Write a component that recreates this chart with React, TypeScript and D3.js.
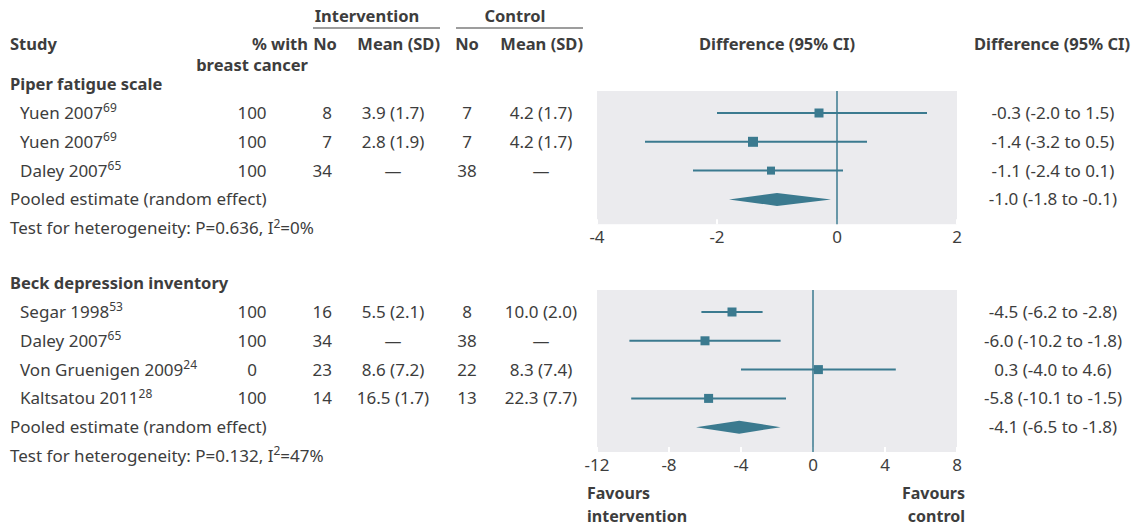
import React from "react";
import * as d3 from "d3";

// ---- data ----
const piperStudies = ["Yuen 2007", "Yuen 2007", "Daley 2007"];
const piperRefs = ["69", "69", "65"];
const piperPct = ["100", "100", "100"];
const piperIntN = ["8", "7", "34"];
const piperIntMean = ["3.9 (1.7)", "2.8 (1.9)", "—"];
const piperCtlN = ["7", "7", "38"];
const piperCtlMean = ["4.2 (1.7)", "4.2 (1.7)", "—"];
const piperEst = [-0.3, -1.4, -1.1];
const piperLo = [-2.0, -3.2, -2.4];
const piperHi = [1.5, 0.5, 0.1];
const piperSize = [9, 10, 8];
const piperPooled = [-1.0, -1.8, -0.1];
const piperHet = ["0.636", "0%"];
const piperTicks = [-4, -2, 0, 2];

const beckStudies = ["Segar 1998", "Daley 2007", "Von Gruenigen 2009", "Kaltsatou 2011"];
const beckRefs = ["53", "65", "24", "28"];
const beckPct = ["100", "100", "0", "100"];
const beckIntN = ["16", "34", "23", "14"];
const beckIntMean = ["5.5 (2.1)", "—", "8.6 (7.2)", "16.5 (1.7)"];
const beckCtlN = ["8", "38", "22", "13"];
const beckCtlMean = ["10.0 (2.0)", "—", "8.3 (7.4)", "22.3 (7.7)"];
const beckEst = [-4.5, -6.0, 0.3, -5.8];
const beckLo = [-6.2, -10.2, -4.0, -10.1];
const beckHi = [-2.8, -1.8, 4.6, -1.5];
const beckSize = [9, 9, 9, 9];
const beckPooled = [-4.1, -6.5, -1.8];
const beckHet = ["0.132", "47%"];
const beckTicks = [-12, -8, -4, 0, 4, 8];

const TEAL = "#3b7a8f";
const TEXT = "#3d3d3d";
const BG = "#ebebee";
const FONT = "'Noto Sans', 'Open Sans', sans-serif";
const FS = 17;
const FS_B = 16.5;

const fmt = (v: number) => d3.format(".1f")(v).replace("\u2212", "-");
const ciText = (e: number, l: number, h: number) => `${fmt(e)} (${fmt(l)} to ${fmt(h)})`;

type Section = {
  title: string;
  studies: string[];
  refs: string[];
  pct: string[];
  intN: string[];
  intMean: string[];
  ctlN: string[];
  ctlMean: string[];
  est: number[];
  lo: number[];
  hi: number[];
  size: number[];
  pooled: number[];
  het: string[];
  ticks: number[];
};

const sections: Section[] = [
  {
    title: "Piper fatigue scale",
    studies: piperStudies, refs: piperRefs, pct: piperPct, intN: piperIntN, intMean: piperIntMean,
    ctlN: piperCtlN, ctlMean: piperCtlMean, est: piperEst, lo: piperLo, hi: piperHi, size: piperSize,
    pooled: piperPooled, het: piperHet, ticks: piperTicks,
  },
  {
    title: "Beck depression inventory",
    studies: beckStudies, refs: beckRefs, pct: beckPct, intN: beckIntN, intMean: beckIntMean,
    ctlN: beckCtlN, ctlMean: beckCtlMean, est: beckEst, lo: beckLo, hi: beckHi, size: beckSize,
    pooled: beckPooled, het: beckHet, ticks: beckTicks,
  },
];

const PLOT_L = 597;
const PLOT_R = 957;
const ROW_H = 28.8;

const SectionBlock = ({ s, top }: { s: Section; top: number }) => {
  const n = s.studies.length;
  const x = d3.scaleLinear().domain(d3.extent(s.ticks) as [number, number]).range([PLOT_L, PLOT_R]);
  const y = d3.scaleLinear().domain([0, 1]).range([top + 28, top + 28 + ROW_H]);
  const bgTop = y(0) - 22;
  const bgBot = y(n + 1) - 4;
  const diamond = d3.line()([
    [x(s.pooled[1]), y(n)],
    [x(s.pooled[0]), y(n) - 6.5],
    [x(s.pooled[2]), y(n)],
    [x(s.pooled[0]), y(n) + 6.5],
  ]) + "Z";
  return (
    <g>
      <text x={10} y={top + 5} fontWeight={700} fontSize={FS_B}>{s.title}</text>
      <rect x={PLOT_L} y={bgTop} width={PLOT_R - PLOT_L} height={bgBot - bgTop} fill={BG} />
      {s.ticks.map((t) => (
        <line key={"g" + t} x1={x(t)} x2={x(t)} y1={bgBot - 5} y2={bgBot} stroke="#fff" strokeWidth={2} />
      ))}
      <line x1={x(0)} x2={x(0)} y1={bgTop} y2={bgBot} stroke={TEAL} strokeWidth={1.5} />
      {s.studies.map((name, i) => {
        const yy = y(i);
        return (
          <g key={i}>
            <text x={20} y={yy} dy="0.35em">
              {name}
              <tspan fontSize={12} dy="-0.55em">{s.refs[i]}</tspan>
            </text>
            <text x={252} y={yy} dy="0.35em" textAnchor="middle">{s.pct[i]}</text>
            <text x={332} y={yy} dy="0.35em" textAnchor="end">{s.intN[i]}</text>
            <text x={393} y={yy} dy="0.35em" textAnchor="middle">{s.intMean[i]}</text>
            <text x={467} y={yy} dy="0.35em" textAnchor="middle">{s.ctlN[i]}</text>
            <text x={541} y={yy} dy="0.35em" textAnchor="middle">{s.ctlMean[i]}</text>
            <line x1={x(s.lo[i])} x2={x(s.hi[i])} y1={yy} y2={yy} stroke={TEAL} strokeWidth={2} />
            <rect
              x={x(s.est[i]) - s.size[i] / 2}
              y={yy - s.size[i] / 2}
              width={s.size[i]}
              height={s.size[i]}
              fill={TEAL}
            />
            <text x={1053} y={yy} dy="0.35em" textAnchor="middle">
              {ciText(s.est[i], s.lo[i], s.hi[i])}
            </text>
          </g>
        );
      })}
      <text x={10} y={y(n)} dy="0.35em">Pooled estimate (random effect)</text>
      <path d={diamond} fill={TEAL} />
      <text x={1053} y={y(n)} dy="0.35em" textAnchor="middle">
        {ciText(s.pooled[0], s.pooled[1], s.pooled[2])}
      </text>
      <text x={10} y={y(n + 1)} dy="0.35em">
        <tspan>Test for heterogeneity: P={s.het[0]}, I</tspan>
        <tspan fontSize={12} dy="-0.55em">2</tspan>
        <tspan fontSize={FS} dy="6.6">={s.het[1]}</tspan>
      </text>
      {s.ticks.map((t) => (
        <text key={"t" + t} x={x(t)} y={bgBot + 13} dy="0.35em" textAnchor="middle">{t}</text>
      ))}
    </g>
  );
};

export default function App() {
  return (
    <svg
      width={1147}
      height={527}
      style={{ position: "absolute", left: 0, top: 0, background: "#fff" }}
      fontFamily={FONT}
      fontSize={FS}
      fill={TEXT}
    >
      <g fontWeight={700} fontSize={FS_B}>
        <text x={367} y={22} textAnchor="middle">Intervention</text>
        <line x1={313} x2={440} y1={28} y2={28} stroke={TEXT} strokeWidth={1.2} />
        <text x={515} y={22} textAnchor="middle">Control</text>
        <line x1={456} x2={583} y1={28} y2={28} stroke={TEXT} strokeWidth={1.2} />
        <text x={10} y={50}>Study</text>
        <text x={308} y={50} textAnchor="end">% with</text>
        <text x={308} y={71} textAnchor="end">breast cancer</text>
        <text x={325} y={50} textAnchor="middle">No</text>
        <text x={440} y={50} textAnchor="end">Mean (SD)</text>
        <text x={467} y={50} textAnchor="middle">No</text>
        <text x={583} y={50} textAnchor="end">Mean (SD)</text>
        <text x={777} y={50} textAnchor="middle">Difference (95% CI)</text>
        <text x={1130} y={50} textAnchor="end">Difference (95% CI)</text>
      </g>
      <SectionBlock s={sections[0]} top={85} />
      <SectionBlock s={sections[1]} top={284} />
      <g fontWeight={700} fontSize={16}>
        <text x={587} y={499}>Favours</text>
        <text x={587} y={522}>intervention</text>
        <text x={965} y={499} textAnchor="end">Favours</text>
        <text x={965} y={522} textAnchor="end">control</text>
      </g>
    </svg>
  );
}
